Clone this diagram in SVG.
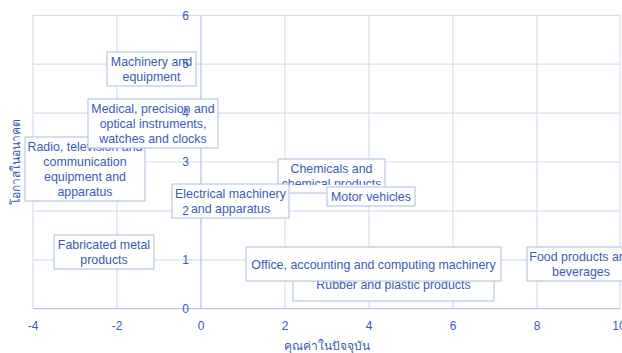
<svg xmlns="http://www.w3.org/2000/svg" width="622" height="353" viewBox="0 0 622 353">
<style>
.grid{stroke:#D6DFF0;stroke-width:1.2;fill:none}
.axis{stroke:#B7C7E6;stroke-width:1.3;fill:none}
.box{fill:#FFFFFF;stroke:#A9BDE3;stroke-width:1}
.lbl{font-family:"Liberation Sans",Arial,sans-serif;font-size:12.4px;fill:#3A5CB4;text-anchor:middle}
.tick{font-family:"Liberation Sans",Arial,sans-serif;font-size:12px;fill:#3A5CB4}
.title{font-family:"Noto Sans","DejaVu Sans",sans-serif;font-size:12px;fill:#3A5CB4;text-anchor:middle}
</style>
<defs>
<clipPath id="chemclip"><rect x="270" y="150" width="130" height="35"/></clipPath>
</defs>
<rect width="622" height="353" fill="#FFFFFF"/>
<g id="gridlines">
<line class="grid" x1="33" y1="15.3" x2="620" y2="15.3"/>
<line class="grid" x1="33" y1="64.2" x2="620" y2="64.2"/>
<line class="grid" x1="33" y1="113.1" x2="620" y2="113.1"/>
<line class="grid" x1="33" y1="162" x2="620" y2="162"/>
<line class="grid" x1="33" y1="210.9" x2="620" y2="210.9"/>
<line class="grid" x1="33" y1="259.8" x2="620" y2="259.8"/>
<line class="grid" x1="33" y1="15.3" x2="33" y2="308.7"/>
<line class="grid" x1="117" y1="15.3" x2="117" y2="308.7"/>
<line class="grid" x1="285" y1="15.3" x2="285" y2="308.7"/>
<line class="grid" x1="369" y1="15.3" x2="369" y2="308.7"/>
<line class="grid" x1="453" y1="15.3" x2="453" y2="308.7"/>
<line class="grid" x1="537" y1="15.3" x2="537" y2="308.7"/>
<line class="grid" x1="620" y1="15.3" x2="620" y2="308.7"/>
</g>
<g id="axes">
<line class="axis" x1="33" y1="308.7" x2="620" y2="308.7"/>
<line class="axis" x1="201" y1="15.3" x2="201" y2="308.7"/>
</g>
<g id="connectors"></g>
<g id="node-radio">
<rect class="box" x="25" y="137" width="120" height="64"/>
<text class="lbl" x="85" y="151">Radio, television and</text>
<text class="lbl" x="85" y="166">communication</text>
<text class="lbl" x="85" y="181">equipment and</text>
<text class="lbl" x="85" y="196">apparatus</text>
</g>
<g id="node-medical">
<rect class="box" x="88" y="99" width="130" height="49"/>
<text class="lbl" x="153" y="113">Medical, precision and</text>
<text class="lbl" x="153" y="128">optical instruments,</text>
<text class="lbl" x="153" y="143">watches and clocks</text>
</g>
<g id="node-machinery">
<rect class="box" x="107" y="52" width="89" height="34"/>
<text class="lbl" x="151.5" y="66">Machinery and</text>
<text class="lbl" x="151.5" y="81">equipment</text>
</g>
<g id="node-chemicals">
<rect class="box" x="278" y="159" width="107" height="34"/>
<g clip-path="url(#chemclip)">
<text class="lbl" x="331.5" y="173">Chemicals and</text>
<text class="lbl" x="331.5" y="188">chemical products</text>
</g>
</g>
<g id="node-electrical">
<rect class="box" x="172" y="184" width="117" height="34"/>
<text class="lbl" x="230.5" y="198">Electrical machinery</text>
<text class="lbl" x="230.5" y="213">and apparatus</text>
</g>
<g id="node-motor">
<rect class="box" x="327" y="187" width="88" height="19"/>
<text class="lbl" x="371" y="201">Motor vehicles</text>
</g>
<g id="node-fabricated">
<rect class="box" x="54" y="235" width="100" height="34"/>
<text class="lbl" x="104" y="249">Fabricated metal</text>
<text class="lbl" x="104" y="264">products</text>
</g>
<g id="node-rubber">
<rect class="box" x="293" y="267" width="201" height="34"/>
<text class="lbl" x="393.5" y="288.5">Rubber and plastic products</text>
</g>
<g id="node-office">
<rect class="box" x="246" y="247" width="255" height="34"/>
<text class="lbl" x="373.5" y="268.5">Office, accounting and computing machinery</text>
</g>
<g id="node-food">
<rect class="box" x="527" y="247" width="108" height="34"/>
<text class="lbl" x="581" y="261">Food products and</text>
<text class="lbl" x="581" y="276">beverages</text>
</g>
<g id="y-ticks" class="tick" text-anchor="end">
<text x="189" y="19.5">6</text>
<text x="189" y="68.4">5</text>
<text x="189" y="117.3">4</text>
<text x="189" y="166.2">3</text>
<text x="189" y="215.1">2</text>
<text x="189" y="264">1</text>
<text x="189" y="312.9">0</text>
</g>
<g id="x-ticks" class="tick" text-anchor="middle">
<text x="33" y="329.5">-4</text>
<text x="117" y="329.5">-2</text>
<text x="201" y="329.5">0</text>
<text x="285" y="329.5">2</text>
<text x="369" y="329.5">4</text>
<text x="453" y="329.5">6</text>
<text x="537" y="329.5">8</text>
<text x="619" y="329.5">10</text>
</g>
<g id="axis-titles">
<text class="title" x="327" y="350">คุณค่าในปัจจุบัน</text>
<text class="title" transform="translate(20,162) rotate(-90)" x="0" y="0">โอกาสในอนาคต</text>
</g>
</svg>
